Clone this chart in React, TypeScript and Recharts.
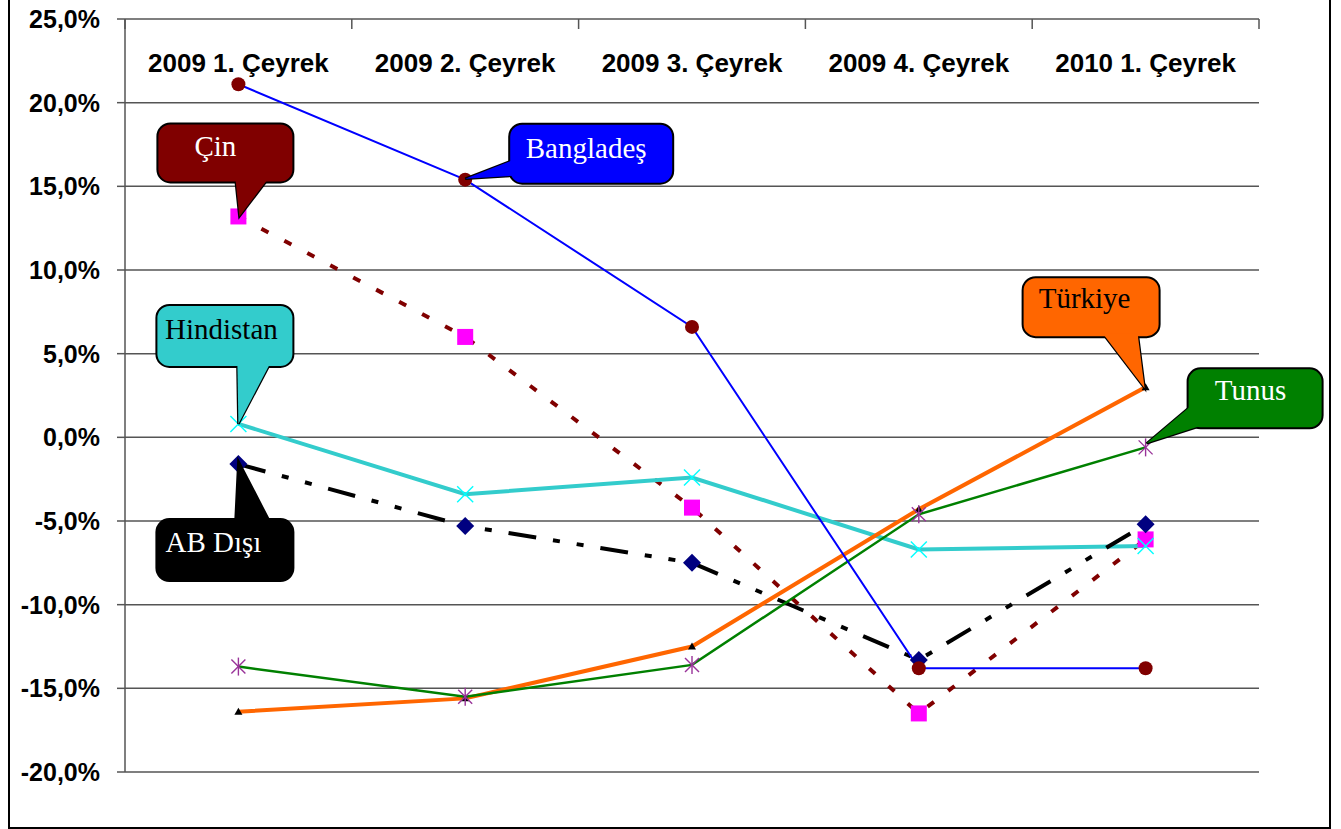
import React from "react";
import { LineChart, Line, XAxis, YAxis, CartesianGrid } from "recharts";

// quarters on the category axis
const categories = [
  "2009 1. Çeyrek",
  "2009 2. Çeyrek",
  "2009 3. Çeyrek",
  "2009 4. Çeyrek",
  "2010 1. Çeyrek",
];

// yearly change, %
const bangladesValues = [21.1, 15.4, 6.6, -13.8, -13.8];
const cinValues = [13.2, 6.0, -4.2, -16.5, -6.1];
const hindistanValues = [0.8, -3.4, -2.4, -6.7, -6.5];
const abDisiValues = [-1.6, -5.3, -7.5, -13.3, -5.2];
const turkiyeValues = [-16.4, -15.6, -12.5, -4.3, 3.0];
const tunusValues = [-13.7, -15.5, -13.6, -4.6, -0.6];

const yTicks = [-20, -15, -10, -5, 0, 5, 10, 15, 20, 25];

const data = categories.map((name, i) => ({
  name,
  banglades: bangladesValues[i],
  cin: cinValues[i],
  hindistan: hindistanValues[i],
  abDisi: abDisiValues[i],
  turkiye: turkiyeValues[i],
  tunus: tunusValues[i],
}));

const W = 1341;
const H = 829;
const margin = { top: 18, right: 82, bottom: 57, left: 8 };
const yAxisWidth = 117;
const plotLeft = margin.left + yAxisWidth;
const plotRight = W - margin.right;
const halfStep = (plotRight - plotLeft) / categories.length / 2;

const axisFont = { fontFamily: "Liberation Sans", fontWeight: "bold" as const, fill: "#000" };

const fmtPct = (v: number) => v.toFixed(1).replace(".", ",") + "%";

type Shape = "circle" | "square" | "cross" | "diamond" | "triangle" | "star";

function makeDot(shape: Shape, color: string) {
  return (p: any) => {
    const { cx, cy, index } = p;
    const k = `${shape}-${index}`;
    if (cx == null || cy == null) return <g key={k} />;
    switch (shape) {
      case "circle":
        return <circle key={k} cx={cx} cy={cy} r={7} fill={color} />;
      case "square":
        return <rect key={k} x={cx - 8} y={cy - 8} width={16} height={16} fill={color} />;
      case "diamond":
        return (
          <polygon
            key={k}
            points={`${cx},${cy - 9} ${cx + 9},${cy} ${cx},${cy + 9} ${cx - 9},${cy}`}
            fill={color}
          />
        );
      case "triangle":
        return (
          <polygon
            key={k}
            points={`${cx},${cy - 4} ${cx + 4},${cy + 3} ${cx - 4},${cy + 3}`}
            fill={color}
          />
        );
      case "cross":
        return (
          <g key={k} stroke={color} strokeWidth={1.4}>
            <line x1={cx - 8} y1={cy - 8} x2={cx + 8} y2={cy + 8} />
            <line x1={cx - 8} y1={cy + 8} x2={cx + 8} y2={cy - 8} />
          </g>
        );
      default:
        return (
          <g key={k} stroke={color} strokeWidth={1.4}>
            <line x1={cx - 7} y1={cy - 7} x2={cx + 7} y2={cy + 7} />
            <line x1={cx - 7} y1={cy + 7} x2={cx + 7} y2={cy - 7} />
            <line x1={cx} y1={cy - 9} x2={cx} y2={cy + 9} />
          </g>
        );
    }
  };
}

type Callout = {
  text: string;
  fill: string;
  color: string;
  index: number;
  box: [number, number, number, number];
  base: [[number, number], [number, number]];
  tip: [number, number];
  tx: number;
  ty: number;
};

// speech-bubble label drawn next to one point of a series (offsets from the point)
function makeCallout(c: Callout) {
  return (p: any) => {
    const x = p.x ?? p.viewBox?.x;
    const y = p.y ?? p.viewBox?.y;
    if (p.index !== c.index || x == null || y == null) return <g key={`c-${p.index}`} />;
    const [x1, y1, x2, y2] = c.box;
    const tri = `${x + c.base[0][0]},${y + c.base[0][1]} ${x + c.tip[0]},${y + c.tip[1]} ${x + c.base[1][0]},${y + c.base[1][1]}`;
    return (
      <g key={`c-${p.index}`}>
        <polygon points={tri} fill={c.fill} stroke="#000" strokeWidth={2.5} />
        <rect x={x + x1} y={y + y1} width={x2 - x1} height={y2 - y1} rx={13} fill={c.fill} stroke="#000" strokeWidth={2} />
        <polygon points={tri} fill={c.fill} />
        <text
          x={x + c.tx}
          y={y + c.ty}
          textAnchor="middle"
          fontFamily="Liberation Serif"
          fontSize={29}
          fill={c.color}
        >
          {c.text}
        </text>
      </g>
    );
  };
}

const cinCallout: Callout = {
  text: "Çin", fill: "#800000", color: "#fff", index: 0,
  box: [-81, -93, 55, -34], base: [[-3, -38], [30, -38]], tip: [1, 0], tx: -23, ty: -60,
};
const bangladesCallout: Callout = {
  text: "Bangladeş", fill: "#0000ff", color: "#fff", index: 1,
  box: [44, -56, 208, 4], base: [[49, -20], [49, -4]], tip: [0, -1], tx: 121, ty: -22,
};
const hindistanCallout: Callout = {
  text: "Hindistan", fill: "#33cccc", color: "#000", index: 0,
  box: [-82, -119, 55, -57], base: [[-1, -61], [32, -61]], tip: [0, 0], tx: -17, ty: -85,
};
const abDisiCallout: Callout = {
  text: "AB Dışı", fill: "#000", color: "#fff", index: 0,
  box: [-82, 55, 55, 117], base: [[-3, 59], [32, 59]], tip: [0, -3], tx: -25, ty: 88,
};
const turkiyeCallout: Callout = {
  text: "Türkiye", fill: "#ff6600", color: "#000", index: 4,
  box: [-123, -110, 14, -50], base: [[-43, -54], [-8, -54]], tip: [-1, 1], tx: -61, ty: -79,
};
const tunusCallout: Callout = {
  text: "Tunus", fill: "#008000", color: "#fff", index: 4,
  box: [42, -79, 177, -19], base: [[46, -42], [60, -23]], tip: [1, -4], tx: 105, ty: -47,
};

const CategoryTick = (p: any) => {
  const { x, y, payload, index } = p;
  return (
    <g>
      <line x1={x - halfStep} y1={y} x2={x - halfStep} y2={y + 10} stroke="#555" strokeWidth={1.5} />
      {index === categories.length - 1 && (
        <line x1={x + halfStep} y1={y} x2={x + halfStep} y2={y + 10} stroke="#555" strokeWidth={1.5} />
      )}
      <text x={x} y={y + 53} textAnchor="middle" fontSize={26} {...axisFont}>
        {payload.value}
      </text>
    </g>
  );
};

export default function App() {
  return (
    <div style={{ position: "fixed", left: 0, top: 0, width: W, height: H, overflow: "hidden", background: "#fff" }}>
      <div
        style={{
          position: "absolute",
          left: 8,
          top: -4,
          width: 1323,
          height: 833,
          border: "2px solid #000",
          boxSizing: "border-box",
        }}
      />
      <div style={{ position: "absolute", left: 0, top: 0 }}>
        <LineChart width={W} height={H} data={data} margin={margin}>
          <CartesianGrid vertical={false} stroke="#555" strokeWidth={1.5} />
          <XAxis
            dataKey="name"
            orientation="top"
            height={1}
            axisLine={false}
            tickLine={false}
            tickSize={0}
            tickMargin={0}
            interval={0}
            padding={{ left: halfStep, right: halfStep }}
            tick={<CategoryTick />}
          />
          <YAxis
            width={yAxisWidth}
            domain={[-20, 25]}
            ticks={yTicks}
            interval={0}
            tickFormatter={fmtPct}
            axisLine={{ stroke: "#555", strokeWidth: 1.5 }}
            tickLine={{ stroke: "#555", strokeWidth: 1.5 }}
            tickSize={8}
            tickMargin={17}
            tick={{ fontSize: 25, ...axisFont }}
          />
          <Line
            dataKey="cin"
            stroke="#800000"
            strokeWidth={4}
            strokeDasharray="8 18"
            dot={makeDot("square", "#ff00ff")}
            label={makeCallout(cinCallout)}
            isAnimationActive={false}
          />
          <Line
            dataKey="hindistan"
            stroke="#33cccc"
            strokeWidth={4}
            dot={makeDot("cross", "#00ffff")}
            label={makeCallout(hindistanCallout)}
            isAnimationActive={false}
          />
          <Line
            dataKey="abDisi"
            stroke="#000"
            strokeWidth={4}
            strokeDasharray="28 17 7 17 7 17"
            dot={makeDot("diamond", "#000080")}
            label={makeCallout(abDisiCallout)}
            isAnimationActive={false}
          />
          <Line
            dataKey="turkiye"
            stroke="#ff6600"
            strokeWidth={4}
            dot={makeDot("triangle", "#000")}
            label={makeCallout(turkiyeCallout)}
            isAnimationActive={false}
          />
          <Line
            dataKey="tunus"
            stroke="#008000"
            strokeWidth={2.5}
            dot={makeDot("star", "#993399")}
            label={makeCallout(tunusCallout)}
            isAnimationActive={false}
          />
          <Line
            dataKey="banglades"
            stroke="#0000ff"
            strokeWidth={2}
            dot={makeDot("circle", "#800000")}
            label={makeCallout(bangladesCallout)}
            isAnimationActive={false}
          />
        </LineChart>
      </div>
    </div>
  );
}
